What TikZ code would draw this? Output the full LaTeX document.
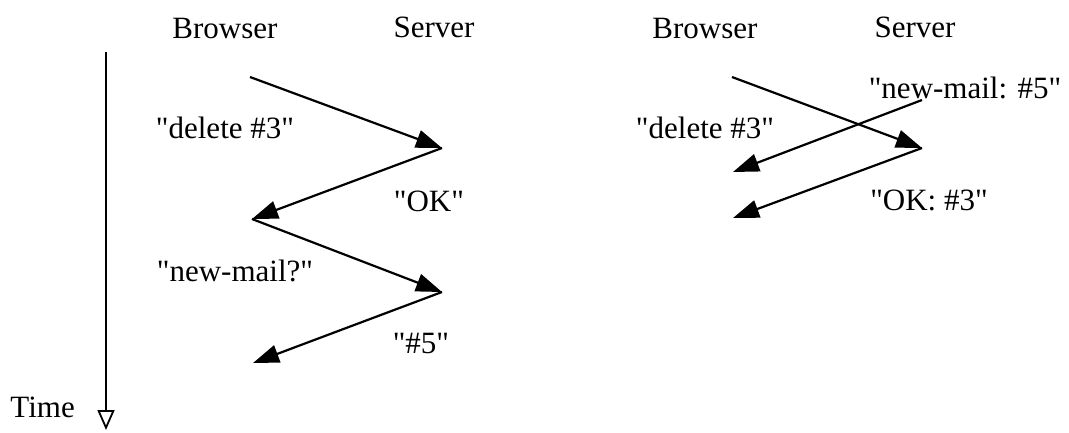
\documentclass[tikz,border=0pt]{standalone}
\usepackage{fontspec}
\newfontfamily\tms{Liberation Serif}
\usetikzlibrary{arrows.meta}
\begin{document}
\begin{tikzpicture}[x=1pt,y=-1pt,
  lbl/.style={inner sep=0pt,font=\tms\fontsize{31}{36}\selectfont},
  msg/.style={line width=2.2pt,-{Triangle[length=26pt,width=18pt]}},
  timeax/.style={line width=2.2pt,-{Triangle[open,length=20pt,width=17pt,line width=1.8pt]}}]
\useasboundingbox (0,0) rectangle (1069,432);
% left diagram
\node[lbl] (b1) at (225,28) {Browser};
\node[lbl] (s1) at (434,27) {Server};
\coordinate (t0) at (106,52);
\coordinate (t1) at (106,430);
\draw[timeax] (t0) -- (t1);
\node[lbl,anchor=east] (time) at (75,407) {Time};
\coordinate (l1) at (250,77);
\coordinate (r1) at (442,148);
\coordinate (l2) at (252,219);
\coordinate (r2) at (442,292);
\coordinate (l3) at (253,363);
\draw[msg] (l1) -- (r1);
\draw[msg] (r1) -- (l2);
\draw[msg] (l2) -- (r2);
\draw[msg] (r2) -- (l3);
\node[lbl] (m1) at (225,128) {"delete \#3"};
\node[lbl] (m2) at (429,201) {"OK"};
\node[lbl] (m3) at (235,271) {"new-mail?"};
\node[lbl] (m4) at (421,343) {"\#5"};
% right diagram
\node[lbl] (b2) at (705,28) {Browser};
\node[lbl] (s2) at (915,27) {Server};
\coordinate (L1) at (732,77);
\coordinate (R1) at (922,148);
\coordinate (R0) at (922,100);
\coordinate (L2) at (733,172);
\coordinate (L3) at (733,218);
\draw[msg] (L1) -- (R1);
\draw[msg] (R0) -- (L2);
\draw[msg] (R1) -- (L3);
\node[lbl] (n1) at (965,88) {"new-mail: \#5"};
\node[lbl] (n2) at (705,128) {"delete \#3"};
\node[lbl] (n3) at (929,200) {"OK: \#3"};
\end{tikzpicture}
\end{document}
